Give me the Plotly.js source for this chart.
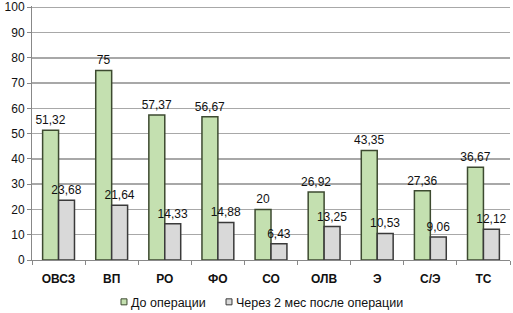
<!DOCTYPE html>
<html><head><meta charset="utf-8">
<script src="https://cdn.plot.ly/plotly-3.0.1.min.js"></script>
<style>body{margin:0;background:#fff}#c{width:513px;height:313px}</style>
</head><body><div id="c"></div>
<script>
const categories = ["ОВСЗ","ВП","РО","ФО","СО","ОЛВ","Э","С/Э","ТС"];
const before = [51.32,75,57.37,56.67,20,26.92,43.35,27.36,36.67];
const after2m = [23.68,21.64,14.33,14.88,6.43,13.25,10.53,9.06,12.12];
const seriesNames = ["До операции","Через 2 мес после операции"];
const yTicks = [0,10,20,30,40,50,60,70,80,90,100];
const fmt = v => String(v).replace('.', ',');
const FONT = 'Liberation Sans, Arial, sans-serif';
const fills = ['#c4e0b0', '#d9d9d9'];
const borders = ['#3d4a30', '#3a3a3a'];
const common = {type:'bar', textposition:'outside', cliponaxis:false, constraintext:'none',
  textfont:{family:FONT, size:12, color:'#111'}, showlegend:false};
const data = [
  Object.assign({}, common, {x:categories, y:before, name:seriesNames[0], text:before.map(fmt),
    marker:{color:fills[0], line:{color:borders[0], width:1.5}}}),
  Object.assign({}, common, {x:categories, y:after2m, name:seriesNames[1], text:after2m.map(fmt),
    marker:{color:fills[1], line:{color:borders[1], width:1.5}}})
];
// custom legend (paper coordinates)
const legX = [[0.1862, 0.1987], [0.4059, 0.4184]];
const legY = [-0.1529, -0.1765];
const shapes = legX.map((xx, i) => ({type:'rect', xref:'paper', yref:'paper',
  x0:xx[0], x1:xx[1], y0:legY[1], y1:legY[0],
  fillcolor:fills[i], line:{color:borders[i], width:1}}));
const annotations = seriesNames.map((n, i) => ({xref:'paper', yref:'paper',
  x:legX[i][1] + 0.004, y:-0.1687, xanchor:'left', yanchor:'middle', showarrow:false,
  text:n, font:{family:FONT, size:12.5, color:'#111'}}));
const layout = {
  width:513, height:313, margin:{l:32,r:3,t:6,b:53, autoexpand:false},
  paper_bgcolor:'#fff', plot_bgcolor:'#fff',
  barmode:'group', bargap:0.4, bargroupgap:0,
  font:{family:FONT, size:12, color:'#111'},
  xaxis:{type:'category', tickson:'boundaries', ticks:'outside', ticklen:4, tickcolor:'#888',
    showline:true, linecolor:'#888', linewidth:1, showgrid:false, ticklabelstandoff:8,
    tickfont:{size:12, color:'#111', weight:'bold'}},
  yaxis:{range:[0,100.5], tickmode:'array', tickvals:yTicks, showgrid:true, gridcolor:'#a8a8a8', gridwidth:1.5,
    showline:true, linecolor:'#888', ticks:'outside', ticklen:4, tickcolor:'#888',
    ticklabeloverflow:'allow', tickfont:{size:12, color:'#111'}, zeroline:false, automargin:false},
  shapes:shapes, annotations:annotations, showlegend:false
};
Plotly.newPlot('c', data, layout, {staticPlot:true, displayModeBar:false});
</script>
</body></html>
